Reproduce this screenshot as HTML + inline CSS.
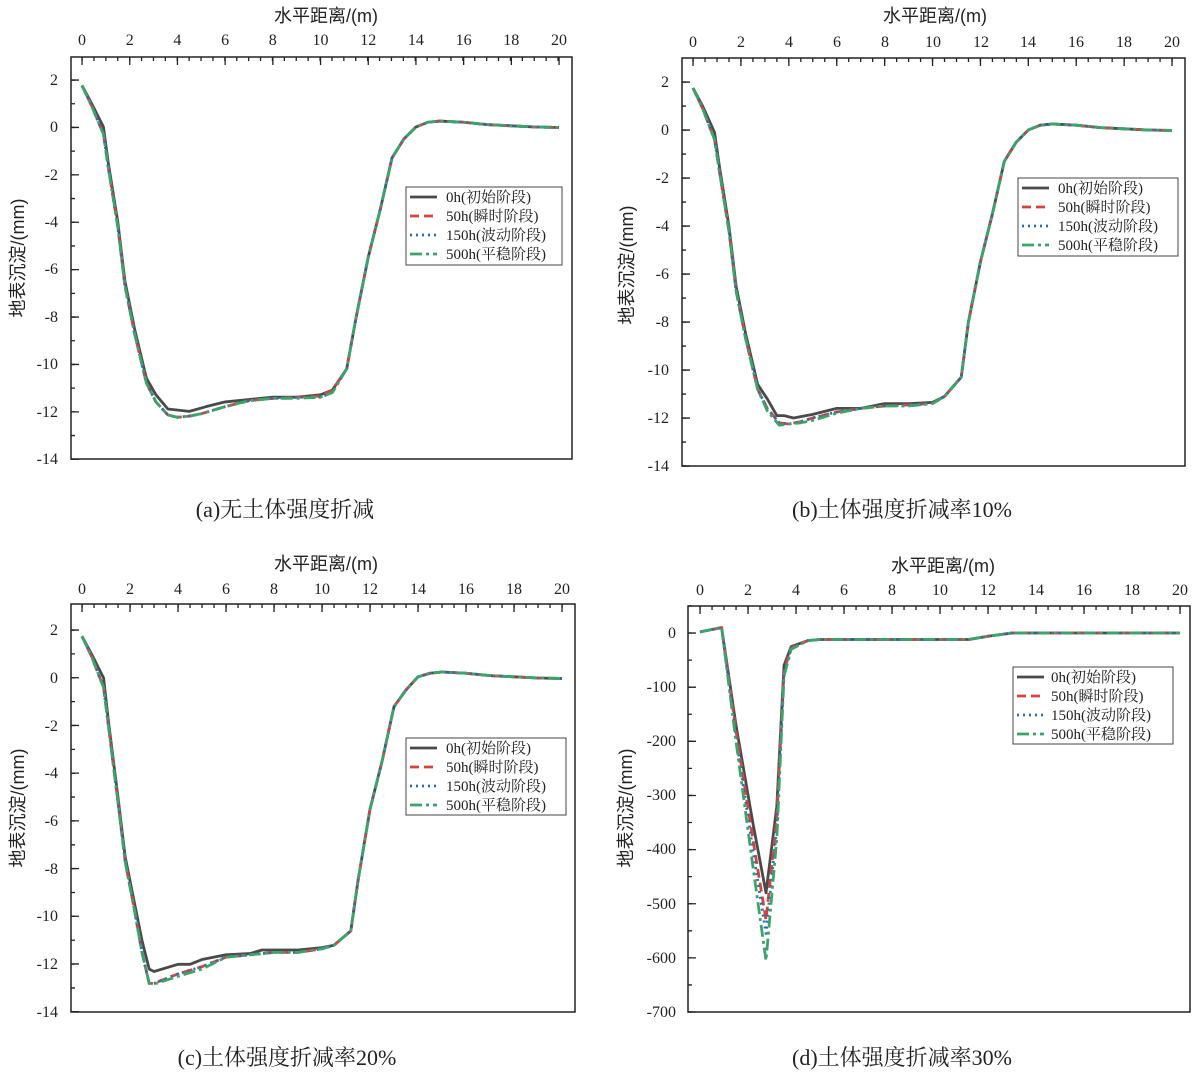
<!DOCTYPE html>
<html><head><meta charset="utf-8"><style>
body{margin:0;background:#fff}
svg{display:block}
.t{font-family:"Liberation Serif","Noto Serif CJK SC",serif;font-size:16px;fill:#222}
.ti{font-family:"Liberation Sans","Noto Sans CJK SC",sans-serif;font-size:18px;fill:#222}
.cap{font-family:"Liberation Serif","Noto Serif CJK SC",serif;font-size:22px;fill:#222}
.lg{font-family:"Liberation Serif","Noto Serif CJK SC",serif;font-size:15px;fill:#222}
.s{fill:none;vector-effect:non-scaling-stroke;stroke-width:2.8;stroke-linejoin:round}
.k{stroke:#4a4a4a}.r{stroke:#d9413a;stroke-dasharray:9 5}.b{stroke:#2a6cb5;stroke-dasharray:2 4}.g{stroke:#3aa56a;stroke-dasharray:12 4 3 4}
</style></head><body>
<svg width="1203" height="1076" xmlns="http://www.w3.org/2000/svg">
<!-- Panel A -->
<g>
<rect x="71" y="57" width="501" height="402" fill="none" stroke="#222" stroke-width="1.5"/>
<line x1="81.4" y1="57" x2="560" y2="57" stroke="#222" stroke-width="8" stroke-dasharray="1.3 46.4" transform="translate(0,4)"/>
<line x1="81.4" y1="59" x2="560" y2="59" stroke="#222" stroke-width="4" stroke-dasharray="1.3 10.6"/>
<line x1="71" y1="79.4" x2="71" y2="460" stroke="#222" stroke-width="8" stroke-dasharray="1.3 46.1" transform="translate(4,0)"/>
<line x1="73" y1="79.4" x2="73" y2="460" stroke="#222" stroke-width="4" stroke-dasharray="1.3 22.4"/>
<text class="ti" x="326" y="22" text-anchor="middle">水平距离/(m)</text>
<g class="t" text-anchor="middle"><text x="82" y="45">0</text><text x="129.7" y="45">2</text><text x="177.4" y="45">4</text><text x="225.1" y="45">6</text><text x="272.8" y="45">8</text><text x="320.5" y="45">10</text><text x="368.2" y="45">12</text><text x="415.9" y="45">14</text><text x="463.6" y="45">16</text><text x="511.3" y="45">18</text><text x="559" y="45">20</text></g>
<g class="t" text-anchor="end"><text x="58" y="85">2</text><text x="58" y="132">0</text><text x="58" y="180">-2</text><text x="58" y="227">-4</text><text x="58" y="274">-6</text><text x="58" y="322">-8</text><text x="58" y="369">-10</text><text x="58" y="417">-12</text><text x="58" y="464">-14</text></g>
<text class="ti" transform="translate(24,258) rotate(-90)" text-anchor="middle">地表沉淀/(mm)</text>
<g transform="translate(82,127) scale(23.85,-23.7)">
<polyline class="s k" points="0,1.75 0.4,1 0.9,0 1.1,-1.5 1.5,-4 1.8,-6.5 2.2,-8.5 2.7,-10.6 3.1,-11.3 3.6,-11.9 4.5,-12 5.2,-11.8 6,-11.6 7,-11.5 8,-11.4 9,-11.4 10,-11.3 10.5,-11.1 11.1,-10.2 11.5,-8 12,-5.5 12.5,-3.5 13,-1.3 13.5,-0.5 14,0 14.5,0.2 15,0.25 16,0.2 17,0.1 18,0.05 19,0 20,-0.02"/>
<polyline class="s r" points="0,1.75 0.4,0.9 0.9,-0.3 1.1,-1.7 1.5,-4.2 1.8,-6.7 2.2,-8.7 2.7,-10.8 3.1,-11.6 3.6,-12.15 4,-12.25 4.5,-12.2 5,-12.1 6,-11.8 7,-11.55 8,-11.45 9,-11.4 10,-11.35 10.5,-11.1 11.1,-10.2 11.5,-8 12,-5.5 12.5,-3.5 13,-1.3 13.5,-0.5 14,0 14.5,0.2 15,0.25 16,0.2 17,0.1 18,0.05 19,0 20,-0.02"/>
<polyline class="s b" points="0,1.75 0.4,0.9 0.9,-0.3 1.1,-1.7 1.5,-4.2 1.8,-6.7 2.2,-8.7 2.7,-10.8 3.1,-11.6 3.6,-12.15 4,-12.25 4.5,-12.2 5,-12.1 6,-11.8 7,-11.55 8,-11.45 9,-11.4 10,-11.4 10.5,-11.2 11.1,-10.2 11.5,-8 12,-5.5 12.5,-3.5 13,-1.3 13.5,-0.5 14,0 14.5,0.2 15,0.25 16,0.2 17,0.1 18,0.05 19,0 20,-0.02"/>
<polyline class="s g" points="0,1.75 0.4,0.9 0.9,-0.3 1.1,-1.7 1.5,-4.2 1.8,-6.7 2.2,-8.7 2.7,-10.8 3.1,-11.6 3.6,-12.15 4,-12.25 4.5,-12.2 5,-12.1 6,-11.8 7,-11.55 8,-11.45 9,-11.45 10,-11.4 10.5,-11.2 11.1,-10.2 11.5,-8 12,-5.5 12.5,-3.5 13,-1.3 13.5,-0.5 14,0 14.5,0.2 15,0.25 16,0.2 17,0.1 18,0.05 19,0 20,-0.02"/>
</g>
<rect x="406" y="187" width="156" height="78" fill="#fff" stroke="#444" stroke-width="1"/>
<line class="s k" x1="410" y1="197" x2="437" y2="197"/><line class="s r" x1="410" y1="216" x2="437" y2="216"/><line class="s b" x1="410" y1="235" x2="437" y2="235"/><line class="s g" x1="410" y1="254" x2="437" y2="254"/>
<g class="lg"><text x="446" y="202">0h(初始阶段)</text><text x="446" y="221">50h(瞬时阶段)</text><text x="446" y="240">150h(波动阶段)</text><text x="446" y="259">500h(平稳阶段)</text></g>
<text class="cap" x="285" y="517" text-anchor="middle">(a)无土体强度折减</text>
</g>
<!-- Panel B -->
<g>
<rect x="682" y="58" width="503" height="408" fill="none" stroke="#222" stroke-width="1.5"/>
<line x1="692.4" y1="62" x2="1174" y2="62" stroke="#222" stroke-width="8" stroke-dasharray="1.3 46.6"/>
<line x1="692.4" y1="60" x2="1174" y2="60" stroke="#222" stroke-width="4" stroke-dasharray="1.3 10.675"/>
<line x1="686" y1="81.4" x2="686" y2="467" stroke="#222" stroke-width="8" stroke-dasharray="1.3 46.7"/>
<line x1="684" y1="81.4" x2="684" y2="467" stroke="#222" stroke-width="4" stroke-dasharray="1.3 22.7"/>
<text class="ti" x="935" y="22" text-anchor="middle">水平距离/(m)</text>
<g class="t" text-anchor="middle"><text x="693" y="47">0</text><text x="741" y="47">2</text><text x="789" y="47">4</text><text x="837" y="47">6</text><text x="885" y="47">8</text><text x="933" y="47">10</text><text x="981" y="47">12</text><text x="1028" y="47">14</text><text x="1076" y="47">16</text><text x="1124" y="47">18</text><text x="1172" y="47">20</text></g>
<g class="t" text-anchor="end"><text x="669" y="87">2</text><text x="669" y="135">0</text><text x="669" y="183">-2</text><text x="669" y="231">-4</text><text x="669" y="279">-6</text><text x="669" y="327">-8</text><text x="669" y="375">-10</text><text x="669" y="423">-12</text><text x="669" y="471">-14</text></g>
<text class="ti" transform="translate(633,265) rotate(-90)" text-anchor="middle">地表沉淀/(mm)</text>
<g transform="translate(693,130) scale(23.95,-24)">
<polyline class="s k" points="0,1.75 0.4,1 0.9,-0.1 1.1,-1.5 1.5,-4 1.8,-6.5 2.2,-8.5 2.7,-10.6 3.1,-11.2 3.5,-11.9 3.8,-11.9 4.2,-12 5,-11.85 6,-11.6 7,-11.6 8,-11.4 9,-11.4 10,-11.35 10.5,-11.1 11.2,-10.3 11.5,-8 12,-5.5 12.5,-3.5 13,-1.3 13.5,-0.5 14,0 14.5,0.2 15,0.25 16,0.2 17,0.1 18,0.05 19,0 20,-0.02"/>
<polyline class="s r" points="0,1.75 0.4,0.9 0.9,-0.4 1.1,-1.7 1.5,-4.2 1.8,-6.7 2.2,-8.7 2.7,-10.8 3.1,-11.6 3.6,-12.2 4,-12.25 4.5,-12.15 5,-12 6,-11.75 7,-11.6 8,-11.5 9,-11.45 10,-11.4 10.5,-11.1 11.2,-10.3 11.5,-8 12,-5.5 12.5,-3.5 13,-1.3 13.5,-0.5 14,0 14.5,0.2 15,0.25 16,0.2 17,0.1 18,0.05 19,0 20,-0.02"/>
<polyline class="s b" points="0,1.75 0.4,0.9 0.9,-0.4 1.1,-1.7 1.5,-4.2 1.8,-6.7 2.2,-8.7 2.7,-10.8 3.1,-11.6 3.6,-12.2 4,-12.25 4.5,-12.15 5,-12 6,-11.75 7,-11.6 8,-11.5 9,-11.45 10,-11.4 10.5,-11.1 11.2,-10.3 11.5,-8 12,-5.5 12.5,-3.5 13,-1.3 13.5,-0.5 14,0 14.5,0.2 15,0.25 16,0.2 17,0.1 18,0.05 19,0 20,-0.02"/>
<polyline class="s g" points="0,1.75 0.4,0.9 0.9,-0.4 1.1,-1.7 1.5,-4.2 1.8,-6.7 2.2,-8.7 2.7,-10.8 3.1,-11.7 3.6,-12.3 4,-12.25 4.5,-12.2 5,-12.1 6,-11.8 7,-11.6 8,-11.5 9,-11.5 10,-11.4 10.5,-11.1 11.2,-10.3 11.5,-8 12,-5.5 12.5,-3.5 13,-1.3 13.5,-0.5 14,0 14.5,0.2 15,0.25 16,0.2 17,0.1 18,0.05 19,0 20,-0.02"/>
</g>
<rect x="1018" y="178" width="160" height="78" fill="#fff" stroke="#444" stroke-width="1"/>
<line class="s k" x1="1022" y1="188" x2="1049" y2="188"/><line class="s r" x1="1022" y1="207" x2="1049" y2="207"/><line class="s b" x1="1022" y1="226" x2="1049" y2="226"/><line class="s g" x1="1022" y1="245" x2="1049" y2="245"/>
<g class="lg"><text x="1058" y="193">0h(初始阶段)</text><text x="1058" y="212">50h(瞬时阶段)</text><text x="1058" y="231">150h(波动阶段)</text><text x="1058" y="250">500h(平稳阶段)</text></g>
<text class="cap" x="902" y="517" text-anchor="middle">(b)土体强度折减率10%</text>
</g>
<!-- Panel C -->
<g>
<rect x="71" y="604" width="504" height="408" fill="none" stroke="#222" stroke-width="1.5"/>
<line x1="81.4" y1="608" x2="563" y2="608" stroke="#222" stroke-width="8" stroke-dasharray="1.3 46.7"/>
<line x1="81.4" y1="606" x2="563" y2="606" stroke="#222" stroke-width="4" stroke-dasharray="1.3 10.7"/>
<line x1="75" y1="629.4" x2="75" y2="1013" stroke="#222" stroke-width="8" stroke-dasharray="1.3 46.4"/>
<line x1="73" y1="629.4" x2="73" y2="1013" stroke="#222" stroke-width="4" stroke-dasharray="1.3 22.56"/>
<text class="ti" x="326" y="570" text-anchor="middle">水平距离/(m)</text>
<g class="t" text-anchor="middle"><text x="82" y="594">0</text><text x="130" y="594">2</text><text x="178" y="594">4</text><text x="226" y="594">6</text><text x="274" y="594">8</text><text x="322" y="594">10</text><text x="370" y="594">12</text><text x="418" y="594">14</text><text x="466" y="594">16</text><text x="514" y="594">18</text><text x="562" y="594">20</text></g>
<g class="t" text-anchor="end"><text x="58" y="635">2</text><text x="58" y="683">0</text><text x="58" y="731">-2</text><text x="58" y="778">-4</text><text x="58" y="826">-6</text><text x="58" y="874">-8</text><text x="58" y="921">-10</text><text x="58" y="969">-12</text><text x="58" y="1017">-14</text></g>
<text class="ti" transform="translate(24,808) rotate(-90)" text-anchor="middle">地表沉淀/(mm)</text>
<g transform="translate(82,678) scale(24,-23.86)">
<polyline class="s k" points="0,1.75 0.4,1 0.9,0 1.1,-1.8 1.5,-5 1.8,-7.5 2.2,-9.5 2.5,-11 2.8,-12.2 3,-12.3 4,-12 4.5,-12 5,-11.8 6,-11.6 7,-11.55 7.5,-11.4 9,-11.4 10,-11.3 10.5,-11.2 11.2,-10.6 11.5,-8.5 12,-5.5 12.5,-3.5 13,-1.2 13.5,-0.5 14,0.05 14.5,0.2 15,0.25 16,0.2 17,0.1 18,0.05 19,0 20,-0.02"/>
<polyline class="s r" points="0,1.75 0.4,0.9 0.9,-0.4 1.1,-2 1.5,-5.2 1.8,-7.7 2.2,-9.8 2.5,-11.5 2.8,-12.8 3,-12.8 4,-12.4 5,-12.1 6,-11.7 7,-11.6 8,-11.5 9,-11.5 10,-11.35 10.5,-11.2 11.2,-10.6 11.5,-8.5 12,-5.5 12.5,-3.5 13,-1.2 13.5,-0.5 14,0.05 14.5,0.2 15,0.25 16,0.2 17,0.1 18,0.05 19,0 20,-0.02"/>
<polyline class="s b" points="0,1.75 0.4,0.9 0.9,-0.4 1.1,-2 1.5,-5.2 1.8,-7.7 2.2,-9.8 2.5,-11.5 2.8,-12.8 3,-12.8 4,-12.4 5,-12.1 6,-11.7 7,-11.6 8,-11.5 9,-11.5 10,-11.35 10.5,-11.2 11.2,-10.6 11.5,-8.5 12,-5.5 12.5,-3.5 13,-1.2 13.5,-0.5 14,0.05 14.5,0.2 15,0.25 16,0.2 17,0.1 18,0.05 19,0 20,-0.02"/>
<polyline class="s g" points="0,1.75 0.4,0.9 0.9,-0.4 1.1,-2 1.5,-5.2 1.8,-7.7 2.2,-9.8 2.5,-11.5 2.8,-12.8 3.1,-12.8 4,-12.5 5,-12.2 6,-11.7 7,-11.6 8,-11.5 9,-11.5 10,-11.35 10.5,-11.2 11.2,-10.6 11.5,-8.5 12,-5.5 12.5,-3.5 13,-1.2 13.5,-0.5 14,0.05 14.5,0.2 15,0.25 16,0.2 17,0.1 18,0.05 19,0 20,-0.02"/>
</g>
<rect x="406" y="738" width="160" height="77" fill="#fff" stroke="#444" stroke-width="1"/>
<line class="s k" x1="410" y1="748" x2="437" y2="748"/><line class="s r" x1="410" y1="767" x2="437" y2="767"/><line class="s b" x1="410" y1="786" x2="437" y2="786"/><line class="s g" x1="410" y1="805" x2="437" y2="805"/>
<g class="lg"><text x="446" y="753">0h(初始阶段)</text><text x="446" y="772">50h(瞬时阶段)</text><text x="446" y="791">150h(波动阶段)</text><text x="446" y="810">500h(平稳阶段)</text></g>
<text class="cap" x="287" y="1065" text-anchor="middle">(c)土体强度折减率20%</text>
</g>
<!-- Panel D -->
<g>
<rect x="688" y="606" width="502" height="406" fill="none" stroke="#222" stroke-width="1.5"/>
<line x1="699.4" y1="610" x2="1181" y2="610" stroke="#222" stroke-width="8" stroke-dasharray="1.3 46.7"/>
<line x1="699.4" y1="608" x2="1181" y2="608" stroke="#222" stroke-width="4" stroke-dasharray="1.3 10.7"/>
<line x1="692" y1="632.4" x2="692" y2="1013" stroke="#222" stroke-width="8" stroke-dasharray="1.3 52.84"/>
<line x1="690" y1="605.3" x2="690" y2="1013" stroke="#222" stroke-width="4" stroke-dasharray="1.3 25.77"/>
<text class="ti" x="943" y="572" text-anchor="middle">水平距离/(m)</text>
<g class="t" text-anchor="middle"><text x="700" y="595">0</text><text x="748" y="595">2</text><text x="796" y="595">4</text><text x="844" y="595">6</text><text x="892" y="595">8</text><text x="940" y="595">10</text><text x="988" y="595">12</text><text x="1036" y="595">14</text><text x="1084" y="595">16</text><text x="1132" y="595">18</text><text x="1180" y="595">20</text></g>
<g class="t" text-anchor="end"><text x="676" y="638">0</text><text x="676" y="692">-100</text><text x="676" y="746">-200</text><text x="676" y="800">-300</text><text x="676" y="854">-400</text><text x="676" y="909">-500</text><text x="676" y="963">-600</text><text x="676" y="1017">-700</text></g>
<text class="ti" transform="translate(632,808) rotate(-90)" text-anchor="middle">地表沉淀/(mm)</text>
<g transform="translate(700,633) scale(24,-0.5414)">
<polyline class="s k" points="0,2 0.9,10 1.5,-170 2.2,-350 2.75,-480 3.2,-320 3.5,-60 3.8,-25 4.5,-14 5,-12 11.2,-12 12,-6 13,0 20,0"/>
<polyline class="s r" points="0,2 0.9,10 1.5,-180 2.2,-380 2.75,-530 3.2,-340 3.5,-70 3.8,-27 4.5,-14 5,-12 11.2,-12 12,-6 13,0 20,0"/>
<polyline class="s b" points="0,2 0.9,10 1.5,-190 2.2,-400 2.75,-555 3.2,-360 3.5,-75 3.8,-28 4.5,-14 5,-12 11.2,-12 12,-6 13,0 20,0"/>
<polyline class="s g" points="0,2 0.9,10 1.5,-200 2.2,-430 2.75,-605 3.2,-380 3.5,-80 3.8,-30 4.5,-14 5,-12 11.2,-12 12,-6 13,0 20,0"/>
</g>
<rect x="1013" y="667" width="160" height="77" fill="#fff" stroke="#444" stroke-width="1"/>
<line class="s k" x1="1017" y1="677" x2="1044" y2="677"/><line class="s r" x1="1017" y1="696" x2="1044" y2="696"/><line class="s b" x1="1017" y1="715" x2="1044" y2="715"/><line class="s g" x1="1017" y1="734" x2="1044" y2="734"/>
<g class="lg"><text x="1051" y="682">0h(初始阶段)</text><text x="1051" y="701">50h(瞬时阶段)</text><text x="1051" y="720">150h(波动阶段)</text><text x="1051" y="739">500h(平稳阶段)</text></g>
<text class="cap" x="902" y="1065" text-anchor="middle">(d)土体强度折减率30%</text>
</g>
</svg>
</body></html>
